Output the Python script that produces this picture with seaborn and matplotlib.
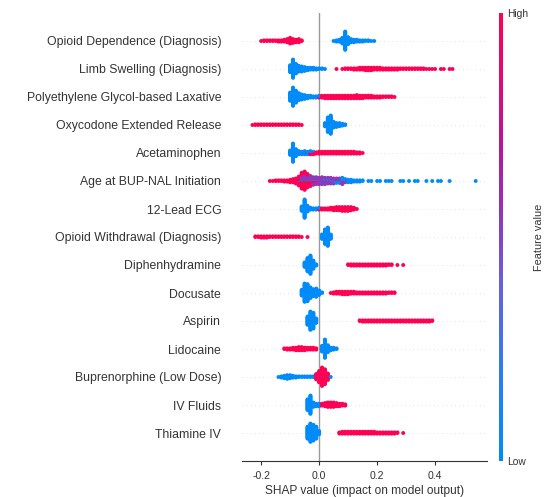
import numpy as np
import pandas as pd
import matplotlib
matplotlib.use("Agg")
import matplotlib.pyplot as plt
from matplotlib.colors import LinearSegmentedColormap, Normalize
from matplotlib.cm import ScalarMappable
import seaborn as sns

# ---------------- data ----------------
features = [
    "Opioid Dependence (Diagnosis)",
    "Limb Swelling (Diagnosis)",
    "Polyethylene Glycol-based Laxative",
    "Oxycodone Extended Release",
    "Acetaminophen",
    "Age at BUP-NAL Initiation",
    "12-Lead ECG",
    "Opioid Withdrawal (Diagnosis)",
    "Diphenhydramine",
    "Docusate",
    "Aspirin",
    "Lidocaine",
    "Buprenorphine (Low Dose)",
    "IV Fluids",
    "Thiamine IV",
]

# (SHAP value, number of samples) for samples with a high feature value
high_bins = [
    # Opioid Dependence
    [(-0.20, 1), (-0.19, 2), (-0.18, 2), (-0.17, 2), (-0.16, 2), (-0.15, 2), (-0.14, 3), (-0.13, 3),
     (-0.12, 4), (-0.11, 6), (-0.10, 10), (-0.09, 7), (-0.08, 5), (-0.07, 6), (-0.06, 2)],
    # Limb Swelling
    [(0.06, 1), (0.08, 1), (0.09, 2), (0.10, 2), (0.11, 2), (0.12, 3), (0.13, 3), (0.14, 4), (0.15, 4),
     (0.16, 5), (0.17, 5), (0.18, 5), (0.19, 4), (0.20, 4), (0.21, 4), (0.22, 3), (0.23, 3), (0.24, 3),
     (0.25, 3), (0.26, 3), (0.27, 3), (0.28, 2), (0.29, 2), (0.30, 2), (0.31, 2), (0.32, 2), (0.33, 2),
     (0.34, 2), (0.35, 2), (0.36, 2), (0.37, 1), (0.38, 1), (0.39, 1), (0.40, 1), (0.42, 1), (0.43, 1),
     (0.45, 1), (0.46, 1)],
    # Polyethylene Glycol-based Laxative
    [(0.00, 2), (0.01, 4), (0.02, 5), (0.03, 5), (0.04, 5), (0.05, 5), (0.06, 5), (0.07, 5), (0.08, 5),
     (0.09, 5), (0.10, 5), (0.11, 5), (0.12, 5), (0.13, 6), (0.14, 5), (0.15, 5), (0.16, 4), (0.17, 4),
     (0.18, 4), (0.19, 3), (0.20, 3), (0.21, 3), (0.22, 2), (0.23, 2), (0.24, 2), (0.25, 2), (0.26, 1)],
    # Oxycodone Extended Release
    [(-0.23, 1), (-0.22, 2), (-0.21, 2), (-0.20, 2), (-0.19, 2), (-0.18, 2), (-0.17, 2), (-0.16, 2),
     (-0.15, 2), (-0.14, 2), (-0.13, 2), (-0.12, 2), (-0.11, 2), (-0.10, 2), (-0.09, 2), (-0.08, 2),
     (-0.07, 2), (-0.06, 1)],
    # Acetaminophen
    [(-0.06, 1), (-0.05, 2), (-0.04, 2), (-0.03, 3), (-0.02, 3), (-0.01, 3), (0.00, 4), (0.01, 4),
     (0.02, 4), (0.03, 4), (0.04, 4), (0.05, 4), (0.06, 4), (0.07, 4), (0.08, 4), (0.09, 4), (0.10, 4),
     (0.11, 4), (0.12, 4), (0.13, 3), (0.14, 3), (0.15, 1)],
    # Age at BUP-NAL Initiation
    [(-0.17, 1), (-0.16, 1), (-0.15, 2), (-0.14, 2), (-0.13, 2), (-0.12, 3), (-0.11, 3), (-0.10, 4),
     (-0.09, 5), (-0.08, 7), (-0.07, 10), (-0.06, 16), (-0.05, 18), (-0.04, 12), (-0.03, 8), (-0.02, 5),
     (-0.01, 4), (0.00, 3), (0.01, 3), (0.02, 2), (0.03, 2), (0.04, 2), (0.05, 1), (0.06, 1), (0.07, 1),
     (0.08, 2)],
    # 12-Lead ECG
    [(0.00, 2), (0.01, 3), (0.02, 3), (0.03, 3), (0.04, 4), (0.05, 5), (0.06, 6), (0.07, 6), (0.08, 7),
     (0.09, 7), (0.10, 7), (0.11, 6), (0.12, 4), (0.13, 1)],
    # Opioid Withdrawal
    [(-0.22, 2), (-0.21, 2), (-0.20, 3), (-0.19, 3), (-0.18, 3), (-0.17, 2), (-0.16, 2), (-0.15, 2),
     (-0.14, 2), (-0.13, 2), (-0.12, 2), (-0.11, 2), (-0.10, 2), (-0.09, 2), (-0.08, 2), (-0.07, 2),
     (-0.06, 1), (-0.04, 1)],
    # Diphenhydramine
    [(0.10, 2), (0.11, 3), (0.12, 3), (0.13, 3), (0.14, 3), (0.15, 3), (0.16, 3), (0.17, 3), (0.18, 3),
     (0.19, 3), (0.20, 3), (0.21, 3), (0.22, 3), (0.23, 3), (0.24, 2), (0.25, 2), (0.27, 1), (0.29, 1)],
    # Docusate
    [(0.04, 1), (0.05, 3), (0.06, 4), (0.07, 4), (0.08, 5), (0.09, 5), (0.10, 5), (0.11, 4), (0.12, 4),
     (0.13, 3), (0.14, 3), (0.15, 3), (0.16, 3), (0.17, 3), (0.18, 3), (0.19, 3), (0.20, 3), (0.21, 3),
     (0.22, 3), (0.23, 3), (0.24, 2), (0.25, 2), (0.26, 2)],
    # Aspirin
    [(0.14, 2), (0.15, 3), (0.16, 3), (0.17, 3), (0.18, 3), (0.19, 3), (0.20, 3), (0.21, 3), (0.22, 3),
     (0.23, 3), (0.24, 3), (0.25, 3), (0.26, 3), (0.27, 3), (0.28, 3), (0.29, 3), (0.30, 3), (0.31, 3),
     (0.32, 3), (0.33, 3), (0.34, 3), (0.35, 3), (0.36, 3), (0.37, 3), (0.38, 3), (0.39, 2)],
    # Lidocaine
    [(-0.12, 2), (-0.11, 3), (-0.10, 3), (-0.09, 4), (-0.08, 5), (-0.07, 6), (-0.06, 6), (-0.05, 5),
     (-0.04, 4), (-0.03, 4), (-0.02, 4), (-0.01, 3)],
    # Buprenorphine (Low Dose)
    [(-0.01, 8), (0.00, 18), (0.01, 30), (0.02, 24), (0.03, 10)],
    # IV Fluids
    [(0.00, 2), (0.01, 4), (0.02, 6), (0.03, 8), (0.04, 8), (0.05, 8), (0.06, 6), (0.07, 5), (0.08, 4),
     (0.09, 3)],
    # Thiamine IV
    [(0.07, 3), (0.08, 4), (0.09, 4), (0.10, 4), (0.11, 4), (0.12, 4), (0.13, 4), (0.14, 4), (0.15, 4),
     (0.16, 4), (0.17, 4), (0.18, 4), (0.19, 4), (0.20, 3), (0.21, 3), (0.22, 3), (0.23, 3), (0.24, 3),
     (0.25, 3), (0.26, 3), (0.27, 2), (0.29, 1)],
]

# (SHAP value, number of samples) for samples with a middle feature value
mid_bins = [
    [], [], [], [], [],
    # Age at BUP-NAL Initiation
    [(-0.10, 1), (-0.09, 1), (-0.08, 2), (-0.07, 4), (-0.06, 8), (-0.05, 10), (-0.04, 8), (-0.03, 7),
     (-0.02, 6), (-0.01, 6), (0.00, 6), (0.01, 6), (0.02, 6), (0.03, 5), (0.04, 5), (0.05, 5), (0.06, 4),
     (0.07, 4), (0.08, 5), (0.09, 3), (0.10, 2), (0.11, 2), (0.12, 1), (0.13, 1), (0.14, 1)],
    [], [], [], [], [], [], [], [], [],
]

# (SHAP value, number of samples) for samples with a low feature value
low_bins = [
    # Opioid Dependence
    [(0.05, 1), (0.06, 3), (0.07, 4), (0.08, 10), (0.09, 30), (0.10, 12), (0.11, 6), (0.12, 5),
     (0.13, 4), (0.14, 3), (0.15, 3), (0.16, 2), (0.17, 2), (0.18, 1), (0.19, 1)],
    # Limb Swelling
    [(-0.10, 12), (-0.09, 30), (-0.08, 16), (-0.07, 10), (-0.06, 9), (-0.05, 7), (-0.04, 5), (-0.03, 4),
     (-0.02, 4), (-0.01, 3), (0.00, 2), (0.01, 2), (0.02, 1)],
    # Polyethylene Glycol-based Laxative
    [(-0.10, 14), (-0.09, 30), (-0.08, 20), (-0.07, 12), (-0.06, 9), (-0.05, 7), (-0.04, 5), (-0.03, 4),
     (-0.02, 3), (-0.01, 3), (0.00, 2)],
    # Oxycodone Extended Release
    [(0.02, 6), (0.03, 24), (0.04, 30), (0.05, 10), (0.06, 7), (0.07, 6), (0.08, 4), (0.09, 2)],
    # Acetaminophen
    [(-0.10, 8), (-0.09, 30), (-0.08, 12), (-0.07, 6), (-0.06, 4), (-0.05, 4), (-0.04, 3), (-0.03, 3),
     (-0.02, 2)],
    # Age at BUP-NAL Initiation
    [(-0.07, 1), (-0.06, 2), (-0.05, 2), (-0.04, 2), (-0.03, 2), (-0.02, 2), (-0.01, 2), (0.00, 2),
     (0.01, 3), (0.02, 3), (0.03, 3), (0.04, 3), (0.05, 3), (0.06, 3), (0.07, 3), (0.08, 4), (0.09, 3),
     (0.10, 3), (0.11, 3), (0.12, 2), (0.13, 2), (0.14, 2), (0.15, 2), (0.17, 1), (0.18, 1), (0.20, 1),
     (0.21, 1), (0.23, 1), (0.24, 1), (0.25, 1), (0.28, 1), (0.29, 1), (0.31, 1), (0.33, 1), (0.34, 1),
     (0.37, 1), (0.39, 1), (0.41, 1), (0.42, 1), (0.45, 1), (0.54, 1)],
    # 12-Lead ECG
    [(-0.06, 8), (-0.05, 30), (-0.04, 10), (-0.03, 4), (-0.02, 3), (-0.01, 3), (0.00, 2)],
    # Opioid Withdrawal
    [(0.01, 8), (0.02, 24), (0.03, 30), (0.04, 8)],
    # Diphenhydramine
    [(-0.05, 8), (-0.04, 22), (-0.03, 30), (-0.02, 14), (-0.01, 3)],
    # Docusate
    [(-0.06, 10), (-0.05, 30), (-0.04, 28), (-0.03, 18), (-0.02, 12), (-0.01, 14), (0.00, 8), (0.01, 2)],
    # Aspirin
    [(-0.04, 14), (-0.03, 30), (-0.02, 26), (-0.01, 8)],
    # Lidocaine
    [(0.01, 10), (0.02, 30), (0.03, 12), (0.04, 5), (0.05, 4), (0.06, 2)],
    # Buprenorphine (Low Dose)
    [(-0.14, 1), (-0.13, 3), (-0.12, 5), (-0.11, 7), (-0.10, 6), (-0.09, 4), (-0.08, 3), (-0.07, 2),
     (-0.06, 2), (-0.05, 2), (-0.04, 2), (-0.03, 2), (-0.02, 2), (-0.01, 2), (0.00, 2), (0.01, 2),
     (0.02, 2), (0.03, 2), (0.04, 1)],
    # IV Fluids
    [(-0.04, 18), (-0.03, 30), (-0.02, 8), (-0.01, 5), (0.00, 3)],
    # Thiamine IV
    [(-0.04, 20), (-0.03, 30), (-0.02, 26), (-0.01, 20), (0.00, 6)],
]

group_values = [1.0, 0.55, 0.0]   # high, middle, low feature value

# ---------------- build beeswarm layout (shap-style stacking) ----------------
n_feat = len(features)
rows = []
for i in range(n_feat):
    row_pos = n_feat - 1 - i
    groups = [high_bins[i], mid_bins[i], low_bins[i]]
    per_bin = {}
    for gbins, gval in zip(groups, group_values):
        for x, n in gbins:
            key = round(x, 4)
            per_bin.setdefault(key, []).append([gval] * n)
    pts = []
    max_layer = 0
    for key in sorted(per_bin):
        lists = per_bin[key]
        merged = []
        while any(lists):
            for l in lists:
                if l:
                    merged.append(l.pop())
        for j, v in enumerate(merged):
            layer = int(np.ceil(j / 2)) * (1 if j % 2 == 1 else -1)
            max_layer = max(max_layer, abs(layer))
            pts.append((key, layer, v))
    scale = 0.9 * 0.4 / (max_layer + 1)
    for x, layer, v in pts:
        rows.append({"shap": x, "y": row_pos + layer * scale, "value": v})
df = pd.DataFrame(rows)

# ---------------- style ----------------
sns.set_theme(style="white")
plt.rcParams["font.family"] = ["Liberation Sans", "DejaVu Sans"]
axis_color = "#333333"

cmap = LinearSegmentedColormap.from_list(
    "red_blue",
    [(0.0, "#008BFB"), (0.2, "#2E7CF1"), (0.4, "#6A5FDA"), (0.55, "#9236BA"),
     (0.7, "#B5169E"), (0.85, "#DD0A78"), (1.0, "#FF0052")],
)

fig = plt.figure(figsize=(5.46, 4.97), dpi=100)
ax = fig.add_axes([242 / 546, 1 - 461 / 497, (487 - 242) / 546, (461 - 13) / 497])

for pos in range(n_feat):
    ax.axhline(y=pos, color="#cccccc", lw=0.5, dashes=(1, 5), zorder=-1)
ax.axvline(x=0, color="#999999", lw=1.0, zorder=-1)

sns.scatterplot(data=df, x="shap", y="y", hue="value", palette=cmap, hue_norm=(0, 1),
                s=8, linewidth=0, alpha=1, legend=False, ax=ax, zorder=3)

ax.set_xlim(-0.266, 0.579)
ax.set_ylim(-1, n_feat)
ax.set_yticks(range(n_feat))
ax.set_yticklabels(list(reversed(features)), fontsize=8.8, color=axis_color)
ax.set_xticks([-0.2, 0.0, 0.2, 0.4])
ax.set_xticklabels(["-0.2", "0.0", "0.2", "0.4"])
ax.tick_params(axis="y", length=0, pad=15)
ax.tick_params(axis="x", length=3, width=0.8, color=axis_color, labelcolor=axis_color,
               labelsize=7.6, pad=4, bottom=True)
ax.set_xlabel("SHAP value (impact on model output)", fontsize=8.6, color=axis_color, labelpad=3)
ax.set_ylabel("")
for side in ["top", "right", "left"]:
    ax.spines[side].set_visible(False)
ax.spines["bottom"].set_color(axis_color)
ax.spines["bottom"].set_linewidth(0.8)

# colorbar
cax = fig.add_axes([498.5 / 546, 1 - 461 / 497, 4.5 / 546, (461 - 13) / 497])
sm = ScalarMappable(norm=Normalize(0, 1), cmap=cmap)
cb = fig.colorbar(sm, cax=cax, ticks=[0, 1])
cb.set_ticklabels(["Low", "High"])
cb.ax.tick_params(labelsize=7.4, length=0, labelcolor=axis_color, pad=3)
cb.outline.set_visible(False)
cb.set_label("Feature value", size=7.8, labelpad=4, color=axis_color)

fig.savefig("out.png", dpi=100)
